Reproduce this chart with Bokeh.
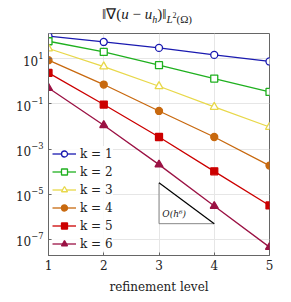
from bokeh.plotting import figure
from bokeh.models import (FixedTicker, Legend, LegendItem, ColumnDataSource, Div)
from bokeh.layouts import column
from bokeh.core.properties import value
from bokeh.embed import file_html
from bokeh.resources import INLINE

levels = [1, 2, 3, 4, 5]
k1 = [97, 54, 29.5, 14.4, 7.4]
k2 = [58, 19.6, 5.06, 1.30, 0.333]
k3 = [27.7, 4.43, 0.594, 0.0721, 0.0094]
k4 = [8.41, 0.708, 0.048, 0.0034, 1.85e-4]
k5 = [2.31, 0.0923, 0.0034, 1.03e-4, 3.2e-6]
k6 = [0.5, 0.0112, 2.04e-4, 3.0e-6, 4.6e-8]
series = [k1, k2, k3, k4, k5, k6]
labels = ["k = 1", "k = 2", "k = 3", "k = 4", "k = 5", "k = 6"]
colors = ["#1a1ab0", "#1fb01f", "#e8d84a", "#c8690f", "#cc0000", "#9b1244"]
markers = ["circle", "square", "triangle", "circle", "square", "triangle"]
filled = [False, False, False, True, True, True]

y_ticks = [1e1, 1e-1, 1e-3, 1e-5, 1e-7]
x_ticks = [1, 2, 3, 4, 5]

# slope triangle O(h^6)
tri_x = [3, 4]
tri_top = 3.2e-5
tri_bottom = 5.0e-7

SERIF = "DejaVu Serif"

title_html = (
    '<div style="font-family: \'Liberation Serif\', serif; font-size: 15px; '
    'color: #222; padding-left: 102px; padding-top: 4px; white-space: nowrap;">'
    '&#8214;&#8711;(<i>u</i> &minus; <i>u</i><sub style="font-size:10px"><i>h</i></sub>)&#8214;'
    '<sub style="font-size:11px"><i>L</i><sup style="font-size:8px">2</sup>(&Omega;)</sub></div>'
)
div = Div(text=title_html, width=285, height=25, margin=(0, 0, 0, 0))

p = figure(width=285, height=273, y_axis_type="log",
           x_range=(1, 5), y_range=(1.96e-8, 127.6),
           output_backend="svg", toolbar_location=None,
           min_border_left=48, min_border_right=16,
           min_border_top=8, min_border_bottom=43)

p.outline_line_color = "#666666"
p.background_fill_color = "white"
p.border_fill_color = "white"

for ax in (p.xaxis, p.yaxis):
    ax.axis_line_color = "#666666"
    ax.major_tick_line_color = "#666666"
    ax.major_tick_in = 3
    ax.major_tick_out = 0
    ax.minor_tick_line_color = None
    ax.major_label_text_font = SERIF
    ax.major_label_text_font_size = "12px"
    ax.major_label_text_color = "#222222"

p.xaxis.ticker = FixedTicker(ticks=x_ticks)
p.yaxis.ticker = FixedTicker(ticks=y_ticks, minor_ticks=[])
p.xaxis.major_label_standoff = 4
p.yaxis.major_label_standoff = 5
p.xaxis.axis_label = "refinement level"
p.xaxis.axis_label_text_font = SERIF
p.xaxis.axis_label_text_font_style = "normal"
p.xaxis.axis_label_text_font_size = "12px"
p.xaxis.axis_label_text_color = "#222222"
p.xaxis.axis_label_standoff = 7

p.xgrid.ticker = FixedTicker(ticks=x_ticks)
p.ygrid.ticker = FixedTicker(ticks=y_ticks, minor_ticks=[])
p.grid.grid_line_color = "#e6e6e6"
p.grid.grid_line_width = 1

items = []
for vals, lab, col, mk, fl in zip(series, labels, colors, markers, filled):
    src = ColumnDataSource(dict(x=levels, y=vals))
    r1 = p.line("x", "y", source=src, line_color=col, line_width=1.3)
    r2 = p.scatter("x", "y", source=src, marker=mk, size=7 if mk != "triangle" else 8,
                   line_color=col, line_width=1.3,
                   fill_color=col if fl else "white")
    items.append(LegendItem(label=lab, renderers=[r1, r2]))

# slope triangle
p.line([tri_x[0], tri_x[0], tri_x[1]], [tri_top, tri_bottom, tri_bottom],
       line_color="#888888", line_width=1)
p.line(tri_x, [tri_top, tri_bottom], line_color="black", line_width=1.2)
p.text(x=[3.06], y=[1.4e-6], text=["O(h⁶)"], text_font=value(SERIF),
       text_font_style="italic", text_font_size="9px", text_baseline="middle",
       text_align="left", text_color="#222222")

legend = Legend(items=items, location=(4, 4), orientation="vertical")
legend.border_line_color = None
legend.background_fill_color = "white"
legend.background_fill_alpha = 0.85
legend.glyph_width = 24
legend.glyph_height = 15
legend.label_height = 15
legend.spacing = 3
legend.padding = 4
legend.margin = 0
legend.label_standoff = 4
legend.label_text_font = SERIF
legend.label_text_font_size = "12px"
legend.label_text_color = "#222222"
p.add_layout(legend, "center")

layout = column(div, p, spacing=0)
open("out.html", "w").write(file_html(layout, INLINE))
